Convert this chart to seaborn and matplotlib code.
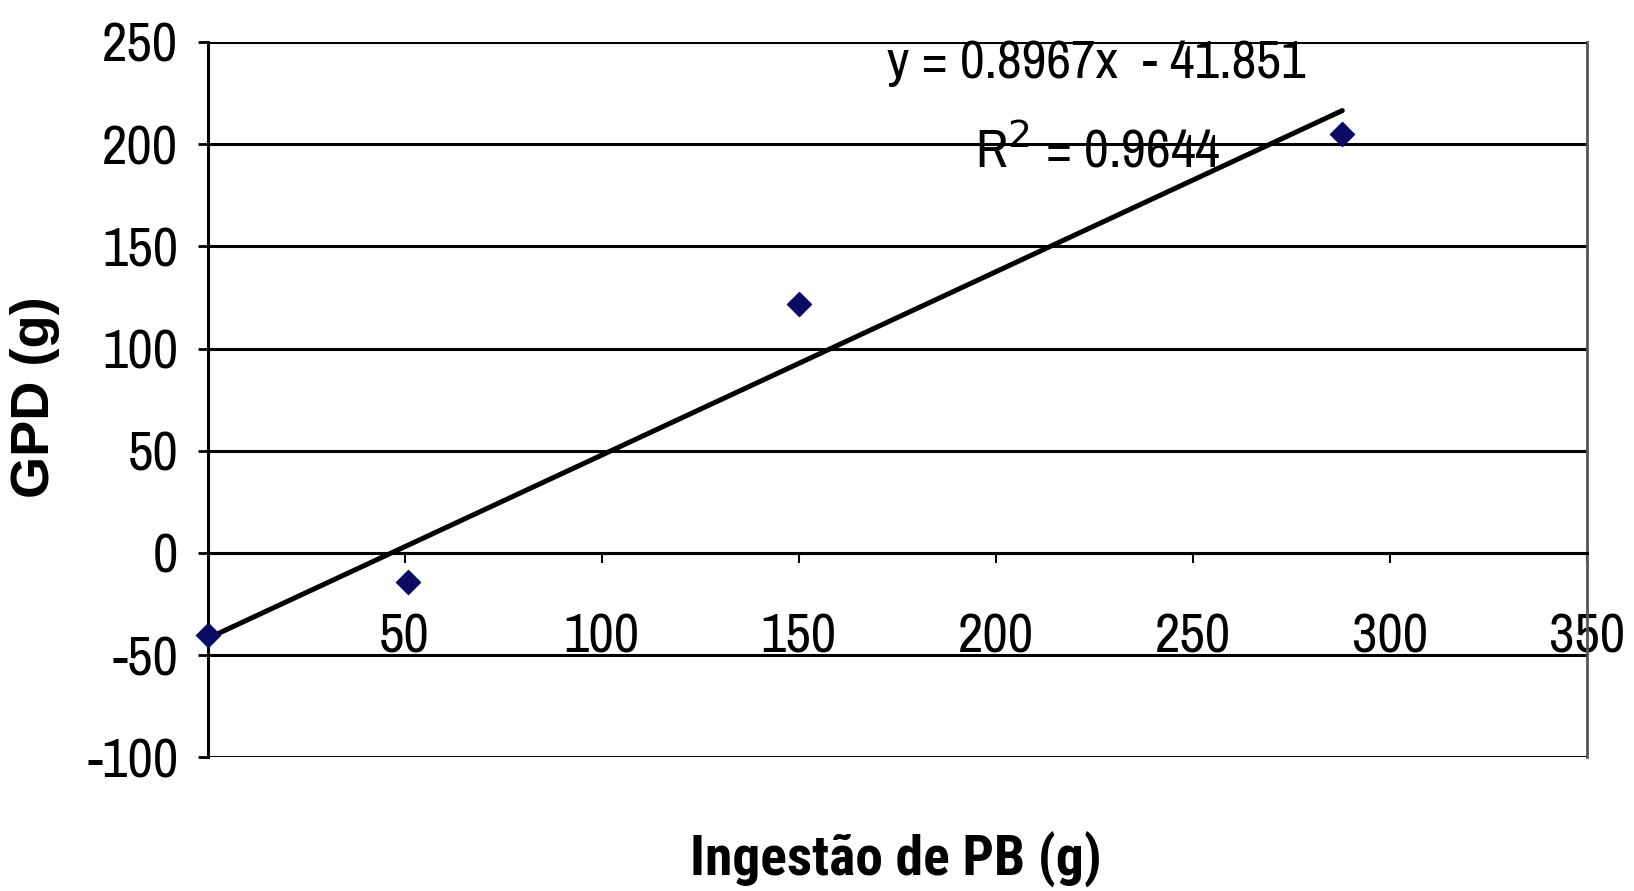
import matplotlib
matplotlib.use("Agg")
import matplotlib.pyplot as plt
from matplotlib import font_manager
import seaborn as sns
import numpy as np
import pandas as pd

# Data
ingestao_pb = [0, 51, 150, 288]
gpd = [-40, -14, 122, 205]
slope = 0.8967
intercept = -41.851
r2 = 0.9644
x_ticks = [50, 100, 150, 200, 250, 300, 350]
y_ticks = [-100, -50, 0, 50, 100, 150, 200, 250]

fonts = font_manager.fontManager.ttflist
names = {f.name for f in fonts}
bold_names = {f.name for f in fonts if (isinstance(f.weight, int) and f.weight >= 700) or f.weight in ("bold",)}

reg_fam = next((n for n in ["Liberation Sans Narrow", "Arimo Narrow", "Archivo Narrow", "Roboto Condensed"] if n in names), "Liberation Sans")
bold_fam = next((n for n in ["Liberation Sans Narrow", "Roboto Condensed", "Barlow Semi Condensed", "Asap Condensed"] if n in bold_names), "Liberation Sans")

sns.set_theme(style="white")
plt.rcParams['font.family'] = [reg_fam, 'DejaVu Sans']
plt.rcParams['text.color'] = 'black'
plt.rcParams['xtick.color'] = 'black'
plt.rcParams['ytick.color'] = 'black'

fig = plt.figure(figsize=(16.34, 8.91), dpi=100)
ax = fig.add_axes([0.127, 0.150, 0.844, 0.803])

df = pd.DataFrame({"x": ingestao_pb, "y": gpd})
xs = np.array([0, max(ingestao_pb)])
line_df = pd.DataFrame({"x": xs, "y": slope * xs + intercept})

for yv in y_ticks:
    ax.axhline(yv, color="black", lw=2.2, zorder=1)

sns.lineplot(data=line_df, x="x", y="y", color="black", lw=3.6, ax=ax, zorder=3)
sns.scatterplot(data=df, x="x", y="y", marker="D", s=150, color="#0b0b66",
                edgecolor="#0b0b66", ax=ax, zorder=4, clip_on=False)

ax.spines['bottom'].set_position(('data', 0))
ax.spines['bottom'].set_linewidth(2.2)
ax.spines['bottom'].set_color('black')
ax.spines['left'].set_linewidth(2.2)
ax.spines['left'].set_color('black')
ax.spines['top'].set_visible(False)
ax.spines['right'].set_color('#555555')
ax.spines['right'].set_linewidth(2)

ax.set_xlim(0, 350)
ax.set_ylim(-100, 250)
ax.set_yticks(y_ticks)
ax.set_yticklabels([str(v) for v in y_ticks], fontsize=40, color='black')
ax.set_xticks(x_ticks)
ax.set_xticklabels([str(v) for v in x_ticks], fontsize=40, color='black')

ax.tick_params(axis='y', direction='out', length=7, width=2, color='black', pad=14, left=True)
ax.tick_params(axis='x', direction='out', length=7, width=1.5, color='black', pad=36, bottom=True)

ax.set_xlabel("")
ax.set_ylabel("")
fig.text(0.548, 0.035, "Ingestão de PB (g)", fontsize=40, fontweight='bold',
         family=[bold_fam, 'DejaVu Sans'], ha='center', va='center')
fig.text(0.0214, 0.554, "GPD (g)", fontsize=39, fontweight='bold',
         family=['Liberation Sans', 'DejaVu Sans'], ha='center', va='center', rotation=90)

ax.text(225.6, 239.5, "y = 0.8967x  - 41.851", fontsize=39, ha='center', va='center', zorder=5)
ax.text(226, 197, "R$^2$ = 0.9644", fontsize=39, ha='center', va='center', zorder=5)

fig.savefig("out.png", dpi=100)
